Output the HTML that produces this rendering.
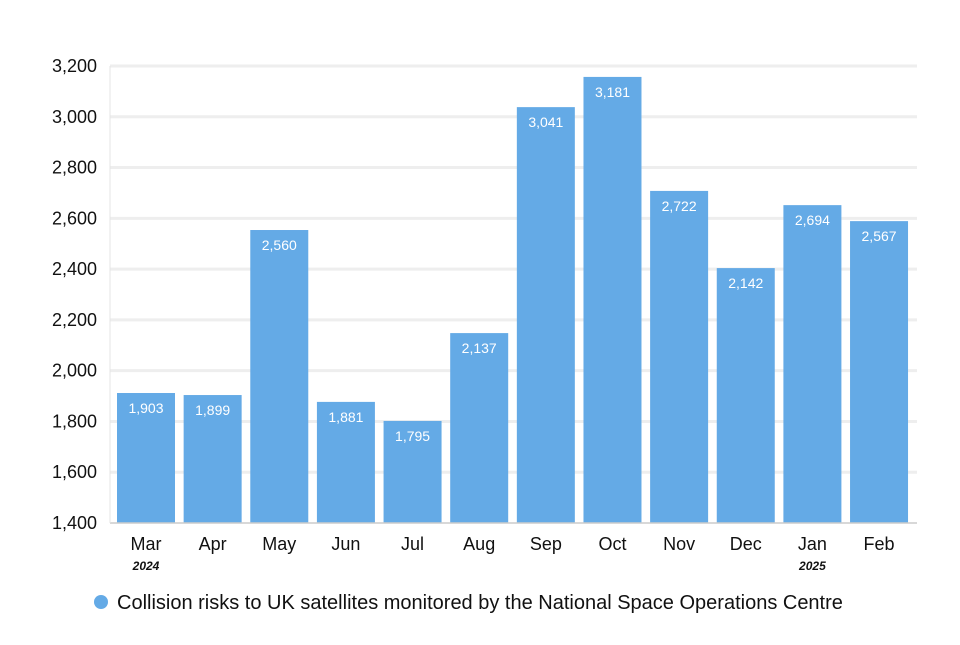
<!DOCTYPE html>
<html><head><meta charset="utf-8"><style>
body{margin:0;background:#fff;font-family:"Liberation Sans",Arial,sans-serif}
</style></head><body>
<svg id="chart" width="960" height="640" xmlns="http://www.w3.org/2000/svg" font-family="Liberation Sans, Arial, sans-serif"></svg>
<script>
const categories=["Mar","Apr","May","Jun","Jul","Aug","Sep","Oct","Nov","Dec","Jan","Feb"];
const years=["2024","","","","","","","","","","2025",""];
const barValues=[1912,1904,2554,1877,1802,2148,3038,3157,2708,2404,2652,2589];
const valueLabels=["1,903","1,899","2,560","1,881","1,795","2,137","3,041","3,181","2,722","2,142","2,694","2,567"];
const yTicks=[1400,1600,1800,2000,2200,2400,2600,2800,3000,3200];
const yTickLabels=["1,400","1,600","1,800","2,000","2,200","2,400","2,600","2,800","3,000","3,200"];
const ns="http://www.w3.org/2000/svg";
const svg=document.getElementById('chart');
const L=110,R=917,T=66,B=523,yMin=1400,yMax=3200;
const y=v=>B-(v-yMin)/(yMax-yMin)*(B-T);
const band=66.64;
const x=i=>117+band*i;
function mk(t,a){const e=document.createElementNS(ns,t);for(const k in a)e.setAttribute(k,a[k]);svg.appendChild(e);return e;}
yTicks.forEach((v,i)=>{
  if(i>0){const g=mk('line',{x1:L,x2:R,y1:y(v),y2:y(v),stroke:'#eeeeee','stroke-width':3});
  
  }
  const t=mk('text',{x:97,y:y(v)+6,'text-anchor':'end','font-size':18,fill:'#111'});
  t.textContent=yTickLabels[i];
  
  
});
barValues.forEach((v,i)=>{
  const bx=x(i);
  const r=mk('rect',{x:bx,y:y(v),width:58,height:B-y(v),fill:'#64aae6'});
  
  
  const lt=mk('text',{x:bx+29,y:y(v)+20,'text-anchor':'middle','font-size':14,fill:'#fff'});
  lt.textContent=valueLabels[i];
  
  
  const ct=mk('text',{x:bx+29,y:550,'text-anchor':'middle','font-size':18,fill:'#111'});
  ct.textContent=categories[i];
  
  
  if(years[i]){const yt=mk('text',{x:bx+29,y:570,'text-anchor':'middle','font-size':12,'font-weight':'bold','font-style':'italic',fill:'#111'});
  yt.textContent=years[i];
  
  }
});
const ax=mk('line',{x1:L,x2:R,y1:B,y2:B,stroke:'#ccc','stroke-width':1.5});


const ax2=mk('line',{x1:L,x2:L,y1:T,y2:B,stroke:'#e4e4e4','stroke-width':1});


const ld=mk('circle',{cx:101,cy:602,r:7,fill:'#64aae6'});


const lt=mk('text',{x:117,y:609,'font-size':20,fill:'#111'});
lt.textContent="Collision risks to UK satellites monitored by the National Space Operations Centre";


</script>
</body></html>
